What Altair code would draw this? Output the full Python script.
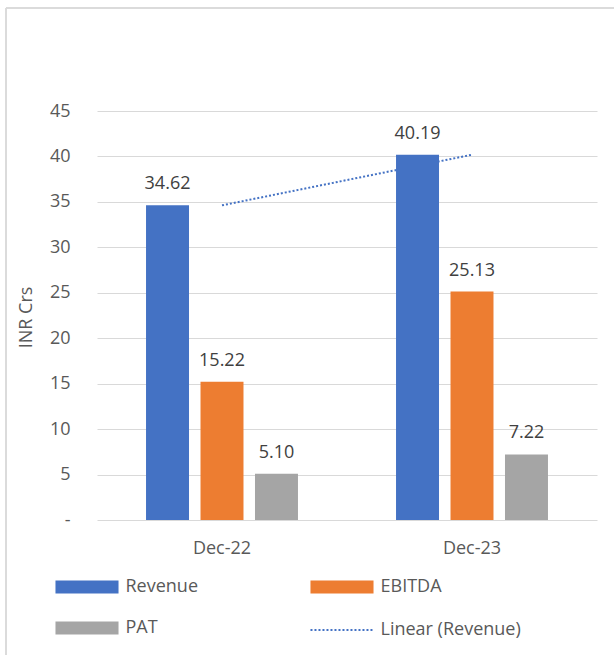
import altair as alt
import pandas as pd

periods = ["Dec-22", "Dec-23"]
series = ["Revenue", "EBITDA", "PAT"]
revenue = [34.62, 40.19]
ebitda = [15.22, 25.13]
pat = [5.10, 7.22]
colors = ["#4472C4", "#ED7D31", "#A5A5A5"]
trend_name = "Linear (Revenue)"
y_ticks = [0, 5, 10, 15, 20, 25, 30, 35, 40, 45]

rows = []
for s, vals in zip(series, [revenue, ebitda, pat]):
    for p, v in zip(periods, vals):
        rows.append({"period": p, "series": s, "value": v})
df = pd.DataFrame(rows)
trend_df = pd.DataFrame({"period": periods, "value": revenue, "label": [trend_name] * 2})

FONT = "Open Sans"
W, H = 500, 409
PAD_L, PAD_T = 97, 111

x_enc = alt.X("period:N", sort=periods, title=None,
              scale=alt.Scale(paddingInner=0, paddingOuter=0),
              axis=alt.Axis(labelFont=FONT, labelFontSize=18, labelColor="#595959",
                            labelPadding=19, domain=False, ticks=False, labelAngle=0))
y_enc = alt.Y("value:Q", title="INR Crs",
              scale=alt.Scale(domain=[0, 45], nice=False),
              axis=alt.Axis(values=y_ticks, labelExpr="datum.value == 0 ? '-' : datum.label",
                            labelFont=FONT, labelFontSize=18, labelColor="#595959",
                            labelPadding=27, domain=False, ticks=False,
                            gridColor="#d9d9d9", gridWidth=1,
                            titleFont=FONT, titleFontSize=18, titleFontWeight="normal",
                            titleColor="#595959", titleX=-71, titleY=206,
                            titleAlign="center", titleBaseline="middle", titleAngle=-90))
xoff = alt.XOffset("series:N", sort=series,
                   scale=alt.Scale(domain=series, paddingInner=0.211, paddingOuter=0.9))

rect_path = "M-4.85,-1H4.85V1H-4.85Z"
line_path = "M-4.85,0H4.85"

trend = alt.Chart(trend_df).mark_line(strokeWidth=2).encode(
    x=x_enc,
    y=alt.Y("value:Q"),
    strokeDash=alt.StrokeDash("label:N", scale=alt.Scale(domain=[trend_name], range=[[2, 2]]),
                              legend=alt.Legend(title=None, orient="none", legendX=236, legendY=510,
                                                symbolType=line_path, symbolSize=169,
                                                symbolStrokeColor="#4472C4", symbolStrokeWidth=2,
                                                labelFont=FONT, labelFontSize=18, labelColor="#595959",
                                                labelOffset=29.5, padding=0)),
    color=alt.value("#4472C4"),
)

bars = alt.Chart(df).mark_bar().encode(
    x=x_enc,
    xOffset=xoff,
    y=y_enc,
    color=alt.Color("series:N", sort=series,
                    scale=alt.Scale(domain=series, range=colors),
                    legend=alt.Legend(title=None, orient="none", legendX=-19, legendY=467,
                                      direction="horizontal",
                                      columns=2, columnPadding=111, rowPadding=23,
                                      symbolType=rect_path, symbolSize=169, symbolStrokeWidth=0,
                                      labelFont=FONT, labelFontSize=18, labelColor="#595959",
                                      labelOffset=29.5, padding=0)),
)

labels = alt.Chart(df).mark_text(font=FONT, fontSize=18, color="#404040",
                                 baseline="alphabetic", dy=-16).encode(
    x=x_enc,
    xOffset=xoff,
    y=alt.Y("value:Q"),
    text=alt.Text("value:Q", format=".2f"),
)

border_top = alt.Chart(trend_df).mark_rule(color="#d9d9d9", strokeWidth=1.5).encode(
    x=alt.value(6 - PAD_L), x2=alt.value(614 - PAD_L), y=alt.value(8 - PAD_T))
border_left = alt.Chart(trend_df).mark_rule(color="#d9d9d9", strokeWidth=1.5).encode(
    x=alt.value(6 - PAD_L), y=alt.value(8 - PAD_T), y2=alt.value(655 - PAD_T))

chart = alt.layer(border_top, border_left, trend, bars, labels).resolve_scale(
    strokeDash="independent", color="independent"
).properties(
    width=W, height=H,
    autosize=alt.AutoSizeParams(type="none"),
    padding={"left": PAD_L, "top": PAD_T, "right": 614 - PAD_L - W, "bottom": 655 - PAD_T - H},
    background="white",
).configure_view(stroke=None)

chart.save("out.html", embed_options={"renderer": "svg", "actions": False})
